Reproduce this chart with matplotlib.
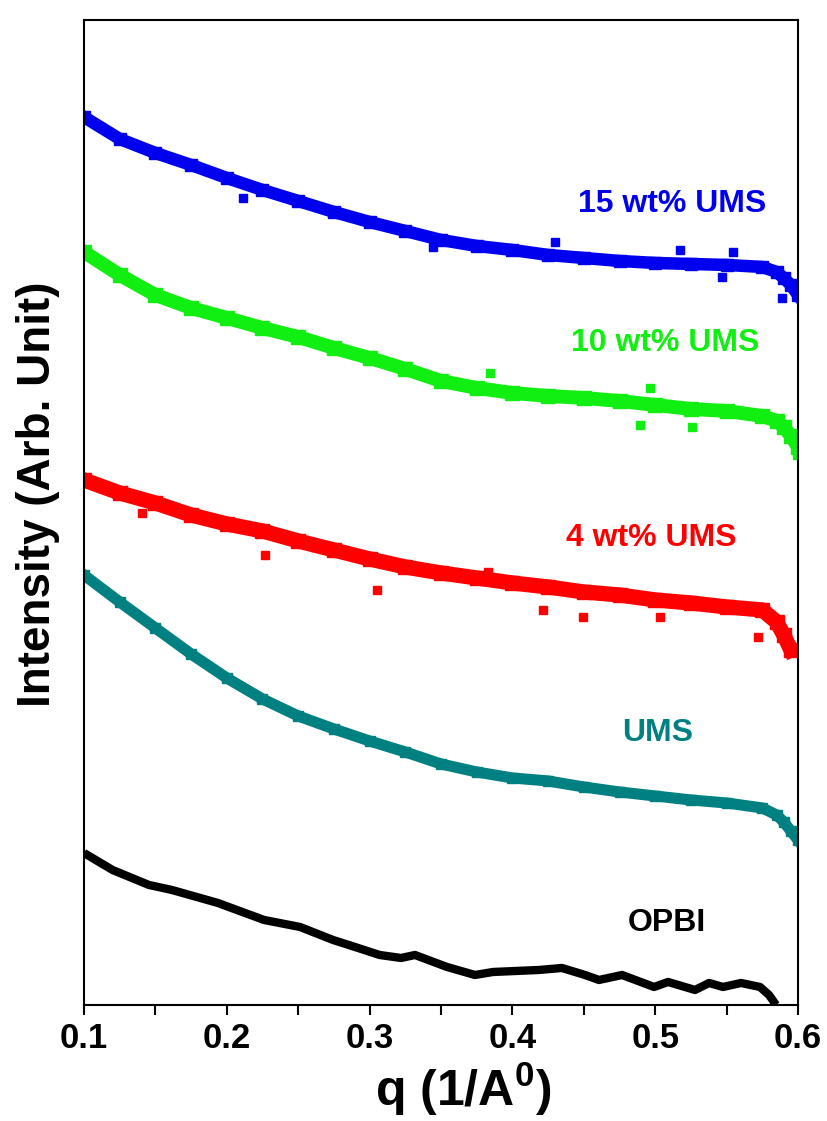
import matplotlib
matplotlib.use("Agg")
import matplotlib.pyplot as plt
from matplotlib.ticker import MultipleLocator

plt.rcParams['font.family'] = ['Liberation Sans', 'DejaVu Sans']
plt.rcParams['font.weight'] = 'bold'
plt.rcParams['axes.labelweight'] = 'bold'
plt.rcParams['mathtext.fontset'] = 'custom'
plt.rcParams['mathtext.rm'] = 'Liberation Sans:bold'
plt.rcParams['mathtext.bf'] = 'Liberation Sans:bold'
plt.rcParams['mathtext.default'] = 'rm'

# q grid (1/A)
q_main = [0.1, 0.125, 0.15, 0.175, 0.2, 0.225, 0.25, 0.275, 0.3, 0.325, 0.35, 0.375,
          0.4, 0.425, 0.45, 0.475, 0.5, 0.525, 0.55, 0.575, 0.585, 0.59, 0.595, 0.6]
q_red = q_main[:-1]

# intensities (arb. units, curves are offset vertically)
ums15 = [888, 866, 852, 840, 827, 815, 804, 793, 783, 774, 765, 759,
         755, 750, 747, 744, 742, 741, 740, 738, 733, 727, 720, 710]
ums10 = [753, 730, 710, 697, 687, 677, 668, 657, 647, 636, 624, 617,
         612, 609, 607, 604, 600, 596, 594, 589, 584, 578, 569, 558]
ums4 = [525, 512, 502, 490, 481, 474, 464, 455, 446, 438, 432, 427,
        422, 418, 413, 410, 405, 402, 398, 395, 383, 370, 355]
ums = [430, 403, 377, 351, 327, 306, 289, 276, 264, 253, 241, 233,
       227, 224, 218, 213, 209, 205, 202, 197, 190, 183, 174, 165]

q_opbi = [0.1, 0.120, 0.1455, 0.1616, 0.1938, 0.2261, 0.2513, 0.2744, 0.2898, 0.307,
          0.322, 0.3318, 0.3542, 0.3738, 0.3864, 0.4186, 0.4347, 0.4508, 0.4606, 0.4768,
          0.4992, 0.509, 0.5279, 0.5377, 0.5475, 0.5601, 0.5734, 0.5797, 0.5846]
opbi = [152, 135, 120, 115, 102, 85, 78, 65, 58, 50, 47, 50, 38, 30, 33, 35, 37, 30,
        25, 30, 18, 23, 15, 22, 18, 22, 18, 10, 0]

# scattered points sitting off the main band
q_ums15_s = [0.2113, 0.3444, 0.4298, 0.5174, 0.5468, 0.5545, 0.5888]
ums15_s = [807, 758, 763, 755, 728, 753, 707]
q_ums10_s = [0.3843, 0.4894, 0.4964, 0.5258, 0.5993]
ums10_s = [632, 580, 617, 578, 550]
q_ums4_s = [0.1406, 0.2268, 0.2618, 0.3052, 0.3829, 0.4214, 0.4494, 0.5034, 0.572]
ums4_s = [492, 450, 458, 415, 433, 395, 388, 388, 368]

c15 = '#0000ee'
c10 = '#11ee11'
c4 = '#ff0000'
cu = '#008080'

fig = plt.figure(figsize=(8.28, 11.21), dpi=100)
ax = fig.add_axes([0.1014, 0.1035, 0.8624, 0.8787])

ax.plot(q_main, ums15, color=c15, lw=9, marker='s', ms=9)
ax.plot(q_ums15_s, ums15_s, 's', color=c15, ms=6)
ax.plot(q_main, ums10, color=c10, lw=10, marker='s', ms=10)
ax.plot(q_ums10_s, ums10_s, 's', color=c10, ms=6)
ax.plot(q_red, ums4, color=c4, lw=11, marker='s', ms=10)
ax.plot(q_ums4_s, ums4_s, 's', color=c4, ms=6)
ax.plot(q_main, ums, color=cu, lw=8, marker='s', ms=7)
ax.plot(q_opbi, opbi, color='black', lw=6, solid_capstyle='butt')

# curve labels
ax.text(0.5118, 801, '15 wt% UMS', color=c15, fontsize=23, ha='center', va='center')
ax.text(0.5069, 662, '10 wt% UMS', color=c10, fontsize=23, ha='center', va='center')
ax.text(0.4971, 467, '4 wt% UMS', color=c4, fontsize=23, ha='center', va='center')
ax.text(0.5020, 272, 'UMS', color=cu, fontsize=23, ha='center', va='center')
ax.text(0.5083, 82, 'OPBI', color='black', fontsize=23, ha='center', va='center')

ax.set_xlim(0.1, 0.6)
ax.set_ylim(0, 985)
ax.set_xticks([0.1, 0.2, 0.3, 0.4, 0.5, 0.6])
ax.set_xticklabels(['0.1', '0.2', '0.3', '0.4', '0.5', '0.6'])
ax.xaxis.set_minor_locator(MultipleLocator(0.05))
ax.tick_params(axis='x', which='major', direction='out', length=7, width=1.5,
               labelsize=25, pad=5)
ax.tick_params(axis='x', which='minor', direction='out', length=7, width=1.5)
ax.set_yticks([])
for s in ax.spines.values():
    s.set_linewidth(1.5)

ax.set_xlabel('q (1/A$^{0}$)', fontsize=36)
ax.set_ylabel('Intensity (Arb. Unit)', fontsize=33)
ax.xaxis.set_label_coords(0.531, -0.056)
ax.yaxis.set_label_coords(-0.033, 0.518)

fig.savefig('out.png', dpi=100)
